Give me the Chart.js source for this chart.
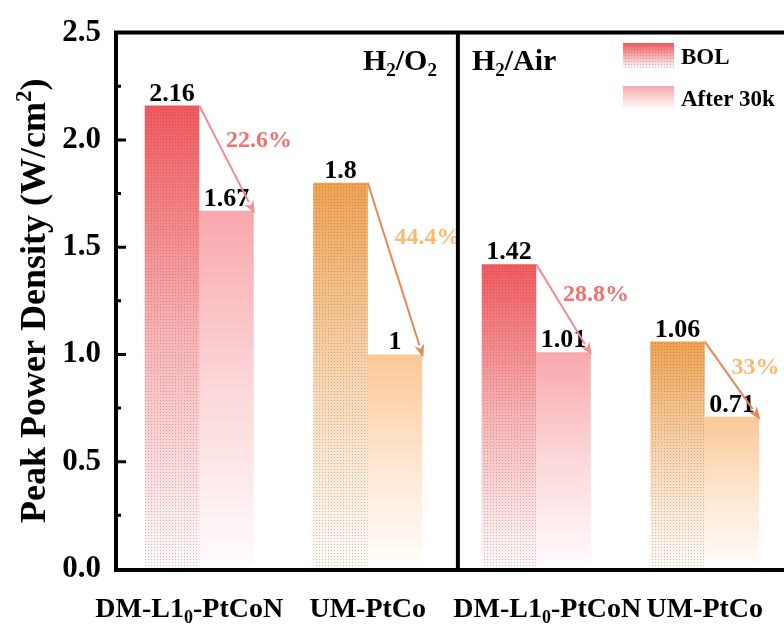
<!DOCTYPE html>
<html>
<head>
<meta charset="utf-8">
<script src="https://cdn.jsdelivr.net/npm/chart.js@4.4.1/dist/chart.umd.min.js"></script>
<style>
html, body { margin: 0; padding: 0; background: #fff; overflow: hidden; }
#wrap { width: 784px; height: 626px; overflow: hidden; }
</style>
</head>
<body>
<div id="wrap"><canvas id="chart" width="800" height="626"></canvas></div>
<script>
// données
const categories = ['DM-L1₀-PtCoN', 'UM-PtCo', 'DM-L1₀-PtCoN', 'UM-PtCo'];
const bolValues = [2.16, 1.8, 1.42, 1.06];
const afterValues = [1.67, 1, 1.01, 0.71];
const dropLabels = ['22.6%', '44.4%', '28.8%', '33%'];
const panelLabels = ['H₂/O₂', 'H₂/Air'];
const seriesNames = ['BOL', 'After 30k'];
const yTitle = 'Peak Power Density (W/cm²)';

// styles
const SERIF = '"Liberation Serif", "Times New Roman", serif';
const bolRGB = ['242,88,92', '240,162,80', '242,88,92', '240,162,80'];
const afterRGB = ['248,168,172', '251,200,150', '248,168,172', '251,200,150'];
const arrowColors = ['rgb(246,138,140)', 'rgb(234,134,84)', 'rgb(246,138,140)', 'rgb(234,134,84)'];
const dropColors = ['rgb(242,112,112)', 'rgb(246,186,112)', 'rgb(242,112,112)', 'rgb(246,186,112)'];
const labelShift = [-10, 0, 11, 0]; // décalage des étiquettes x (px)

// motif de points pour les barres BOL
const dotTile = document.createElement('canvas');
dotTile.width = 3;
dotTile.height = 3;
const tctx = dotTile.getContext('2d');
tctx.fillStyle = 'rgba(80,80,80,0.32)';
tctx.fillRect(1, 1, 1, 1);

function fadeFill(context, rgbList) {
    const chart = context.chart;
    const area = chart.chartArea;
    const rgb = rgbList[context.dataIndex];
    if (!area || context.raw == null) return 'rgb(' + rgb + ')';
    const top = chart.scales.y.getPixelForValue(context.raw);
    const g = chart.ctx.createLinearGradient(0, top, 0, area.bottom);
    g.addColorStop(0, 'rgba(' + rgb + ',1)');
    g.addColorStop(0.5, 'rgba(' + rgb + ',0.45)');
    g.addColorStop(1, 'rgba(' + rgb + ',0.03)');
    return g;
}

const SUB = '₀₁₂₃₄₅₆₇₈₉';
function richParts(text) {
    const parts = [];
    for (const ch of text) {
        let mode = 0, c = ch;
        const si = SUB.indexOf(ch);
        if (si >= 0) { mode = 1; c = String(si); }
        else if (ch === '²') { mode = 2; c = '2'; }
        const last = parts[parts.length - 1];
        if (last && last.mode === mode) last.t += c;
        else parts.push({ t: c, mode: mode });
    }
    return parts;
}

function drawRich(ctx, text, x, y, size, align) {
    const parts = richParts(text);
    const fontFor = m => 'bold ' + (m ? Math.round(size * 0.64) : size) + 'px ' + SERIF;
    let total = 0;
    parts.forEach(p => {
        ctx.font = fontFor(p.mode);
        p.w = ctx.measureText(p.t).width;
        total += p.w;
    });
    let cx = align === 'center' ? x - total / 2 : (align === 'right' ? x - total : x);
    ctx.textAlign = 'left';
    ctx.textBaseline = 'alphabetic';
    parts.forEach(p => {
        ctx.font = fontFor(p.mode);
        const dy = p.mode === 1 ? size * 0.22 : (p.mode === 2 ? -size * 0.38 : 0);
        ctx.fillText(p.t, cx, y + dy);
        cx += p.w;
    });
}

function drawArrow(ctx, x1, y1, x2, y2, color) {
    const ang = Math.atan2(y2 - y1, x2 - x1);
    const cos = Math.cos(ang), sin = Math.sin(ang);
    const head = 13, half = 5;
    ctx.strokeStyle = color;
    ctx.fillStyle = color;
    ctx.lineWidth = 2;
    ctx.beginPath();
    ctx.moveTo(x1, y1);
    ctx.lineTo(x2 - head * cos, y2 - head * sin);
    ctx.stroke();
    ctx.beginPath();
    ctx.moveTo(x2, y2);
    ctx.lineTo(x2 - head * cos + half * sin, y2 - head * sin - half * cos);
    ctx.lineTo(x2 - (head - 4) * cos, y2 - (head - 4) * sin);
    ctx.lineTo(x2 - head * cos - half * sin, y2 - head * sin + half * cos);
    ctx.closePath();
    ctx.fill();
}

const decorPlugin = {
    id: 'decor',
    afterDatasetsDraw(chart) {
        const ctx = chart.ctx;
        const area = chart.chartArea;
        const xs = chart.scales.x;
        const ys = chart.scales.y;
        const bolBars = chart.getDatasetMeta(0).data;
        const afterBars = chart.getDatasetMeta(1).data;
        ctx.save();

        // points sur les barres BOL
        const pattern = ctx.createPattern(dotTile, 'repeat');
        ctx.fillStyle = pattern;
        bolBars.forEach(b => {
            ctx.fillRect(b.x - b.width / 2, b.y, b.width, b.base - b.y);
        });

        // valeurs au-dessus des barres
        ctx.fillStyle = '#000';
        [[bolBars, bolValues], [afterBars, afterValues]].forEach(([bars, vals]) => {
            bars.forEach((b, i) => {
                ctx.font = 'bold 26px ' + SERIF;
                ctx.textAlign = 'center';
                ctx.textBaseline = 'alphabetic';
                ctx.fillText(String(vals[i]), b.x, b.y - 5);
            });
        });

        // flèches + pourcentages
        bolBars.forEach((b, i) => {
            const a = afterBars[i];
            const x1 = b.x + b.width / 2, y1 = b.y;
            const x2 = a.x + a.width / 2 + 1, y2 = a.y + 3;
            drawArrow(ctx, x1, y1, x2, y2, arrowColors[i]);
            const px = x1 + 0.3 * (x2 - x1) + 10;
            const py = y1 + 0.3 * (y2 - y1) + 3;
            ctx.fillStyle = dropColors[i];
            ctx.font = 'bold 24px ' + SERIF;
            ctx.textAlign = 'left';
            ctx.textBaseline = 'middle';
            ctx.fillText(dropLabels[i], px, py);
        });

        // cadre, séparateur, graduations
        ctx.strokeStyle = '#000';
        ctx.lineWidth = 4;
        ctx.beginPath();
        ctx.moveTo(area.left + 1, area.top);
        ctx.lineTo(area.left + 1, area.bottom + 2);
        ctx.moveTo(area.left - 1, area.bottom + 1);
        ctx.lineTo(area.right + 20, area.bottom + 1);
        ctx.moveTo(area.left - 1, area.top);
        ctx.lineTo(area.right + 20, area.top);
        const divX = xs.getPixelForValue(1.535);
        ctx.moveTo(divX, area.top);
        ctx.lineTo(divX, area.bottom);
        ctx.stroke();

        ctx.lineWidth = 3;
        ctx.beginPath();
        for (let v = 0.25; v < 2.5; v += 0.25) {
            const y = ys.getPixelForValue(v);
            const len = Math.abs(v / 0.5 - Math.round(v / 0.5)) < 1e-6 ? 11 : 6;
            ctx.moveTo(area.left, y);
            ctx.lineTo(area.left + len, y);
        }
        ctx.stroke();

        // étiquettes des panneaux
        ctx.fillStyle = '#000';
        drawRich(ctx, panelLabels[0], divX - 21, area.top + 37, 30, 'right');
        drawRich(ctx, panelLabels[1], divX + 14, area.top + 37, 30, 'left');

        // légende
        const boxes = [{ y: 43, h: 25, rgb: bolRGB[0], dots: true }, { y: 86, h: 23, rgb: afterRGB[0], dots: false }];
        boxes.forEach((bx, k) => {
            const g = ctx.createLinearGradient(0, bx.y, 0, bx.y + bx.h);
            g.addColorStop(0, 'rgba(' + bx.rgb + ',1)');
            g.addColorStop(1, 'rgba(' + bx.rgb + ',0.03)');
            ctx.fillStyle = g;
            ctx.fillRect(623, bx.y, 51, bx.h);
            if (bx.dots) {
                ctx.fillStyle = pattern;
                ctx.fillRect(623, bx.y, 51, bx.h);
            }
            ctx.fillStyle = '#000';
            drawRich(ctx, seriesNames[k], 681, bx.y + (k === 0 ? 21 : 20), 23, 'left');
        });

        // étiquettes de l'axe x
        ctx.fillStyle = '#000';
        categories.forEach((c, i) => {
            drawRich(ctx, c, xs.getPixelForValue(i) + labelShift[i], 617, 28, 'center');
        });

        // titre de l'axe y
        ctx.save();
        ctx.translate(45, (area.top + area.bottom) / 2);
        ctx.rotate(-Math.PI / 2);
        drawRich(ctx, yTitle, 0, 0, 36, 'center');
        ctx.restore();

        ctx.restore();
    }
};

const chart = new Chart(document.getElementById('chart').getContext('2d'), {
    type: 'bar',
    data: {
        labels: categories,
        datasets: [{
            label: seriesNames[0],
            data: bolValues,
            backgroundColor: c => fadeFill(c, bolRGB),
            borderWidth: 0,
            categoryPercentage: 0.647,
            barPercentage: 1
        }, {
            label: seriesNames[1],
            data: afterValues,
            backgroundColor: c => fadeFill(c, afterRGB),
            borderWidth: 0,
            categoryPercentage: 0.647,
            barPercentage: 1
        }]
    },
    options: {
        responsive: false,
        animation: false,
        layout: { padding: { top: 29, right: 11, left: 0, bottom: 0 } },
        plugins: {
            legend: { display: false },
            tooltip: { enabled: false }
        },
        scales: {
            x: {
                grid: { display: false, drawTicks: false },
                border: { display: false },
                ticks: { display: false },
                afterFit: s => { s.height = 57; }
            },
            y: {
                min: 0,
                max: 2.5,
                grid: { display: false, drawTicks: false },
                border: { display: false },
                ticks: {
                    stepSize: 0.5,
                    padding: 14,
                    color: '#000',
                    font: { family: SERIF, size: 31, weight: 'bold' },
                    callback: v => Number(v).toFixed(1)
                },
                afterFit: s => { s.width = 115; }
            }
        }
    },
    plugins: [decorPlugin]
});
</script>
</body>
</html>
